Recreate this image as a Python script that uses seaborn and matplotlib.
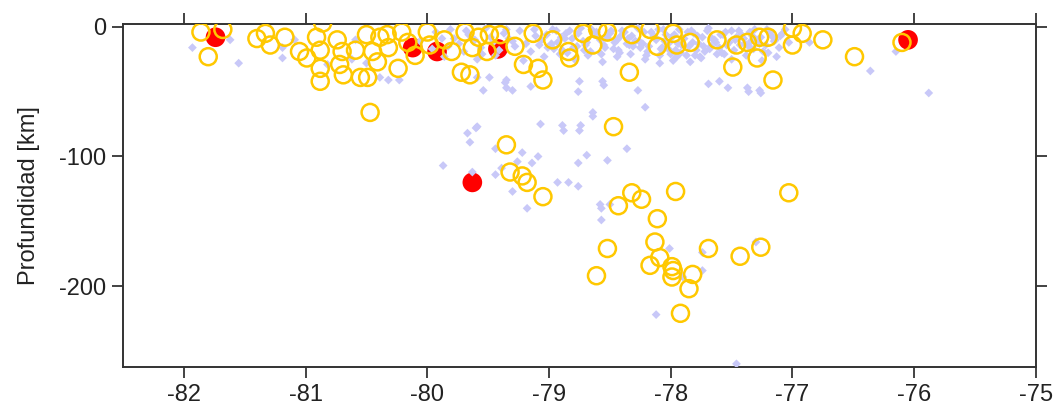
import matplotlib
matplotlib.use("Agg")
import matplotlib.pyplot as plt
import seaborn as sns

# background seismicity (light lavender diamonds)
lav_lon = [
    # shallow band
    -79.93, -79.81, -79.66, -79.52, -79.37, -79.24, -79.11, -78.97, -78.86, -78.74, -78.63, -78.49,
    -78.41, -78.27, -78.16, -78.04, -77.93, -77.81, -77.69, -77.57, -77.44, -77.33, -77.21, -77.08,
    -80.06, -79.88, -79.74, -79.61, -79.46, -79.33, -79.19, -79.06, -78.93, -78.81, -78.70, -78.58,
    -78.46, -78.35, -78.23, -78.12, -78.01, -77.89, -77.77, -77.64, -77.52, -77.40, -77.27, -77.14, -77.03,
    -79.96, -79.83, -79.70, -79.56, -79.41, -79.28, -79.15, -79.01, -78.89, -78.77, -78.66, -78.54,
    -78.43, -78.31, -78.19, -78.07, -77.96, -77.85, -77.72, -77.60, -77.48, -77.36, -77.24, -77.11,
    -79.86, -79.59, -79.44, -79.21, -79.04, -78.91, -78.79, -78.68, -78.56, -78.44, -78.33, -78.21,
    -78.09, -77.98, -77.87, -77.75, -77.62, -77.50, -77.38, -77.25, -77.13,
    -78.90, -78.83, -78.72, -78.61, -78.52, -78.38, -78.29, -78.14, -78.06, -77.99, -77.91, -77.83,
    -77.74, -77.67, -77.55, -77.46, -77.35, -77.29, -77.17, -77.06, -78.47, -78.25, -78.00, -77.79, -77.58,
    # dense core of the band
    -79.02, -78.98, -78.94, -78.87, -78.80, -78.76, -78.69, -78.65, -78.59, -78.55, -78.50, -78.44,
    -78.40, -78.36, -78.32, -78.26, -78.22, -78.18, -78.13, -78.10, -78.05, -78.02, -77.97, -77.94,
    -77.90, -77.86, -77.82, -77.78, -77.73, -77.70, -77.66, -77.63, -77.59, -77.54, -77.50, -77.47,
    -77.42, -77.39, -77.34, -77.31, -77.26, -77.22, -77.18, -77.15, -77.10, -78.96, -78.85, -78.71,
    -78.57, -78.42, -78.34, -78.20, -78.08, -77.92, -77.80, -77.68, -77.56, -77.43, -77.32, -77.20,
    -79.12, -79.08, -79.30, -79.35, -79.48, -79.55, -79.68, -79.78,
    # scattered
    -81.93, -81.62, -81.55, -81.19, -81.19, -81.09, -80.82, -80.62, -80.59, -80.50, -80.39, -80.32,
    -80.23, -79.59, -79.49, -79.35, -79.35, -79.54, -79.59, -79.36, -79.30, -79.15, -78.75, -78.76,
    -78.55, -78.27, -78.21, -78.64, -79.07, -78.88, -78.75, -77.69, -77.60, -77.53, -77.36, -77.26,
    -76.86, -76.36, -76.15, -75.88, -78.09, -77.95, -77.84, -77.76, -78.56, -77.37, -77.27,
    -78.64, -78.89, -78.74, -79.60, -79.67, -79.65, -79.44, -79.22, -79.09, -78.36, -78.69, -78.52,
    -79.26, -79.14, -78.76, -79.87, -79.63, -79.39, -79.44, -78.93, -78.84, -78.76, -79.30, -79.18,
    -78.58, -78.57, -78.50, -78.57, -78.01, -77.74, -77.74, -77.90, -78.12, -77.30, -77.46,
]
lav_dep = [
    -4, -2, -6, -1, -5, -3, -7, -2, -5, -1, -6, -3,
    -7, -1, -4, -6, -2, -5, -1, -6, -3, -7, -2, -5,
    -11, -9, -13, -10, -12, -9, -13, -10, -12, -9, -14, -10,
    -12, -9, -13, -10, -12, -9, -13, -10, -12, -9, -13, -10, -12,
    -17, -15, -19, -16, -18, -15, -19, -16, -18, -15, -19, -16,
    -18, -15, -19, -16, -18, -15, -19, -16, -18, -15, -19, -16,
    -23, -25, -22, -26, -23, -21, -25, -22, -27, -23, -21, -25,
    -22, -26, -22, -24, -21, -25, -22, -26, -23,
    -8, -3, -11, -4, -8, -4, -11, -7, -2, -8, -14, -3,
    -8, -15, -4, -8, -4, -10, -7, -2, -17, -16, -21, -18, -20,
    -6, -13, -3, -9, -16, -5, -12, -2, -8, -14, -5, -10,
    -3, -13, -7, -11, -4, -15, -8, -2, -11, -17, -6, -13,
    -9, -4, -12, -7, -15, -3, -9, -12, -6, -14, -3, -10,
    -6, -13, -11, -2, -8, -14, -4, -11, -7, -17, -20, -18,
    -21, -20, -14, -22, -17, -20, -22, -17, -21, -14, -17, -20,
    -2, -14, -11, -2, -8, -21, -3, -9,
    -16, -10, -28, -16, -24, -10, -29, -25, -10, -28, -39, -41,
    -41, -39, -39, -41, -47, -49, -77, -43, -49, -46, -42, -50,
    -45, -49, -62, -69, -75, -80, -80, -44, -42, -47, -50, -51,
    -12, -34, -19, -51, -28, -23, -27, -23, -42, -47, -49,
    -66, -76, -76, -78, -82, -89, -94, -97, -100, -94, -99, -103,
    -104, -105, -105, -107, -112, -109, -114, -120, -120, -123, -127, -140,
    -137, -140, -137, -149, -171, -174, -188, -193, -222, -166, -260,
]

# catalogue events (gold open circles)
gold_lon = [
    -81.86, -81.80, -81.68, -81.40, -81.33, -81.29, -81.17, -81.05, -80.99, -80.88, -80.91, -80.86,
    -80.88, -80.88, -80.74, -80.70, -80.72, -80.69, -80.59, -80.55, -80.49, -80.50, -80.39, -80.45,
    -80.41, -80.33, -80.32, -80.24, -80.21, -80.16, -80.10, -80.00, -79.98, -79.86, -79.80, -79.72,
    -79.65, -79.69, -79.63, -79.58, -79.51, -79.49, -79.40, -79.28, -79.21, -79.13, -79.09, -79.05,
    -78.97, -78.84, -78.83, -78.72, -78.64, -78.60, -78.52, -78.34, -78.32, -78.17, -78.11, -77.98,
    -77.95, -77.84, -77.62, -77.49, -77.46, -77.37, -77.29, -77.27, -77.20, -77.16, -77.00, -77.00,
    -76.92, -76.75, -76.49, -76.10,
    -80.47, -78.47, -79.35, -79.32, -79.22, -79.18, -79.05, -78.32, -78.24, -78.43, -77.96, -77.03,
    -78.11, -78.13, -78.52, -78.61, -77.69, -77.43, -77.26, -78.09, -78.17, -77.99, -77.98, -77.99,
    -77.82, -77.85, -77.92,
]
gold_dep = [
    -4, -23, -2, -9, -5, -14, -8, -19, -24, -18, -8, 3,
    -32, -42, -10, -19, -29, -37, -18, -39, -39, -6, -8, -19,
    -27, -6, -16, -32, -4, -12, -22, -4, -14, -10, -19, -35,
    -37, -4, -16, -8, -19, -6, -6, -15, -29, -5, -32, -41,
    -10, -19, -24, -5, -14, -2, -4, -35, -6, -2, -15, -5,
    -14, -12, -10, -31, -14, -12, -24, -8, -8, -41, -14, -1,
    -5, -10, -23, -12,
    -66, -77, -91, -112, -115, -120, -131, -128, -133, -138, -127, -128,
    -148, -166, -171, -192, -171, -177, -170, -178, -184, -185, -188, -193,
    -191, -202, -221,
]

# main events (red filled circles)
red_lon = [-81.74, -80.12, -79.92, -79.42, -76.05, -79.63]
red_dep = [-8, -16, -19, -17, -10, -120]

sns.set_style("ticks")
plt.rcParams["font.family"] = ["Liberation Sans", "DejaVu Sans"]
plt.rcParams["axes.unicode_minus"] = False

fig, ax = plt.subplots(figsize=(10.57, 4.12), dpi=100)
fig.subplots_adjust(left=0.1164, right=0.980, bottom=0.109, top=0.942)

sns.scatterplot(x=red_lon, y=red_dep, ax=ax, marker="o", s=200,
                color="#ff0000", edgecolor="none", zorder=2)
sns.scatterplot(x=lav_lon, y=lav_dep, ax=ax, marker="D", s=20,
                color="#c8c8f8", edgecolor="none", zorder=3)
sns.scatterplot(x=gold_lon, y=gold_dep, ax=ax, marker="o", s=150,
                facecolor="none", edgecolor="#ffc800", linewidth=1.8, zorder=4)

ax.set_xlim(-82.5, -75)
ax.set_ylim(-262.5, 2.3)
ax.set_xticks(range(-82, -74))
ax.set_yticks([-200, -100, 0])
ax.set_ylabel("Profundidad [km]", fontsize=17, color="#222222", labelpad=14)
ax.tick_params(axis="both", which="both", direction="out", length=8, width=1.2,
               top=True, right=True, labelsize=17, colors="#222222", pad=4)
for side in ["left", "right", "top", "bottom"]:
    ax.spines[side].set_visible(True)
    ax.spines[side].set_linewidth(1.4)
    ax.spines[side].set_color("#333333")

plt.savefig("out.png", dpi=100)
plt.close()
